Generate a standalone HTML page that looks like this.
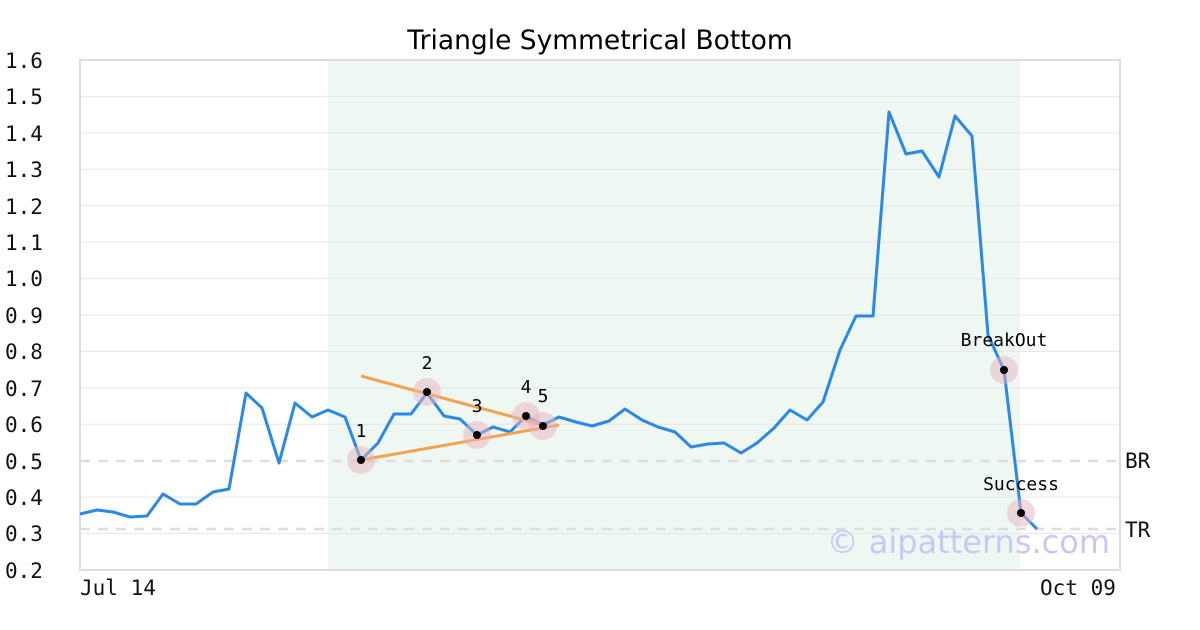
<!DOCTYPE html>
<html><head><meta charset="utf-8"><style>
body{margin:0;background:#fff}
svg{display:block}
text{font-family:"DejaVu Sans Mono","Liberation Mono",monospace;}
</style></head><body>
<svg width="1200" height="630" xmlns="http://www.w3.org/2000/svg">
<rect width="1200" height="630" fill="#fff"/>
<rect x="328" y="60" width="692" height="510" fill="#eff7f3"/>
<g stroke="#e6e6e6" stroke-width="1">
<line x1="80" x2="1120" y1="96.4" y2="96.4"/><line x1="80" x2="1120" y1="132.9" y2="132.9"/>
<line x1="80" x2="1120" y1="169.3" y2="169.3"/><line x1="80" x2="1120" y1="205.7" y2="205.7"/>
<line x1="80" x2="1120" y1="242.1" y2="242.1"/><line x1="80" x2="1120" y1="278.6" y2="278.6"/>
<line x1="80" x2="1120" y1="315" y2="315"/><line x1="80" x2="1120" y1="351.4" y2="351.4"/>
<line x1="80" x2="1120" y1="387.9" y2="387.9"/><line x1="80" x2="1120" y1="424.3" y2="424.3"/>
<line x1="80" x2="1120" y1="497.1" y2="497.1"/><line x1="80" x2="1120" y1="533.6" y2="533.6"/>
</g>
<g stroke="#dddddd" stroke-width="2.5" stroke-dasharray="10,8">
<line x1="80" x2="1120" y1="461" y2="461"/><line x1="80" x2="1120" y1="529" y2="529"/>
</g>
<rect x="80" y="60" width="1040" height="510" fill="none" stroke="#dddddd" stroke-width="2"/>
<text x="600" y="49" text-anchor="middle" font-size="26.5" style="font-family:'DejaVu Sans',sans-serif">Triangle Symmetrical Bottom</text>
<g font-size="21" fill="#111">
<text x="5" y="68">1.6</text><text x="5" y="104">1.5</text><text x="5" y="141">1.4</text><text x="5" y="177">1.3</text>
<text x="5" y="214">1.2</text><text x="5" y="250">1.1</text><text x="5" y="286">1.0</text><text x="5" y="323">0.9</text>
<text x="5" y="359">0.8</text><text x="5" y="396">0.7</text><text x="5" y="432">0.6</text><text x="5" y="469">0.5</text>
<text x="5" y="505">0.4</text><text x="5" y="541">0.3</text><text x="5" y="578">0.2</text>
<text x="80" y="595">Jul 14</text><text x="1040" y="595">Oct 09</text>
<text x="1125" y="468">BR</text><text x="1125" y="537">TR</text>
</g>
<text x="1110" y="553" text-anchor="end" font-size="32" fill="#c8c8f5" style="font-family:'DejaVu Sans',sans-serif">© aipatterns.com</text>
<polyline fill="none" stroke="#2a88e8" stroke-width="3" stroke-linejoin="round" points="80,514 97,510 113,512 130,517 147,516 163,494 180,504 196,504 213,492 229,489 246,393 262,408 279,463 295,403 312,417 328,410 345,417 361,460 378,443 394,414 411,414 427,393 444,416 460,419 477,435 493,427 510,432 526,416 543,425 559,417 576,422 592,426 609,421 625,409 642,420 658,427 675,432 691,447 708,444 724,443 741,453 757,443 774,428 790,410 807,420 823,402 840,350 856,316 873,316 889,112 906,154 922,151 939,177 955,116 972,136 988,335 1004,370 1021,513 1037,529"/>
<g stroke="#f7a04a" stroke-width="3">
<line x1="361" y1="376" x2="543" y2="425"/><line x1="361" y1="460" x2="559" y2="425"/>
</g>
<g fill="#e8b4bf" fill-opacity="0.5">
<circle cx="361" cy="460" r="14"/><circle cx="427" cy="392" r="14"/><circle cx="477" cy="435" r="14"/>
<circle cx="526" cy="416" r="14"/><circle cx="543" cy="426" r="14"/><circle cx="1004" cy="370" r="14"/><circle cx="1021" cy="513" r="14"/>
</g>
<g fill="#000">
<circle cx="361" cy="460" r="4"/><circle cx="427" cy="392" r="4"/><circle cx="477" cy="435" r="4"/>
<circle cx="526" cy="416" r="4"/><circle cx="543" cy="426" r="4"/><circle cx="1004" cy="370" r="4"/><circle cx="1021" cy="513" r="4"/>
</g>
<g font-size="18" text-anchor="middle">
<text x="361" y="437">1</text><text x="427" y="369">2</text><text x="477" y="412">3</text>
<text x="526" y="393">4</text><text x="543" y="402">5</text><text x="1004" y="346">BreakOut</text><text x="1021" y="490">Success</text>
</g>
</svg>
</body></html>
